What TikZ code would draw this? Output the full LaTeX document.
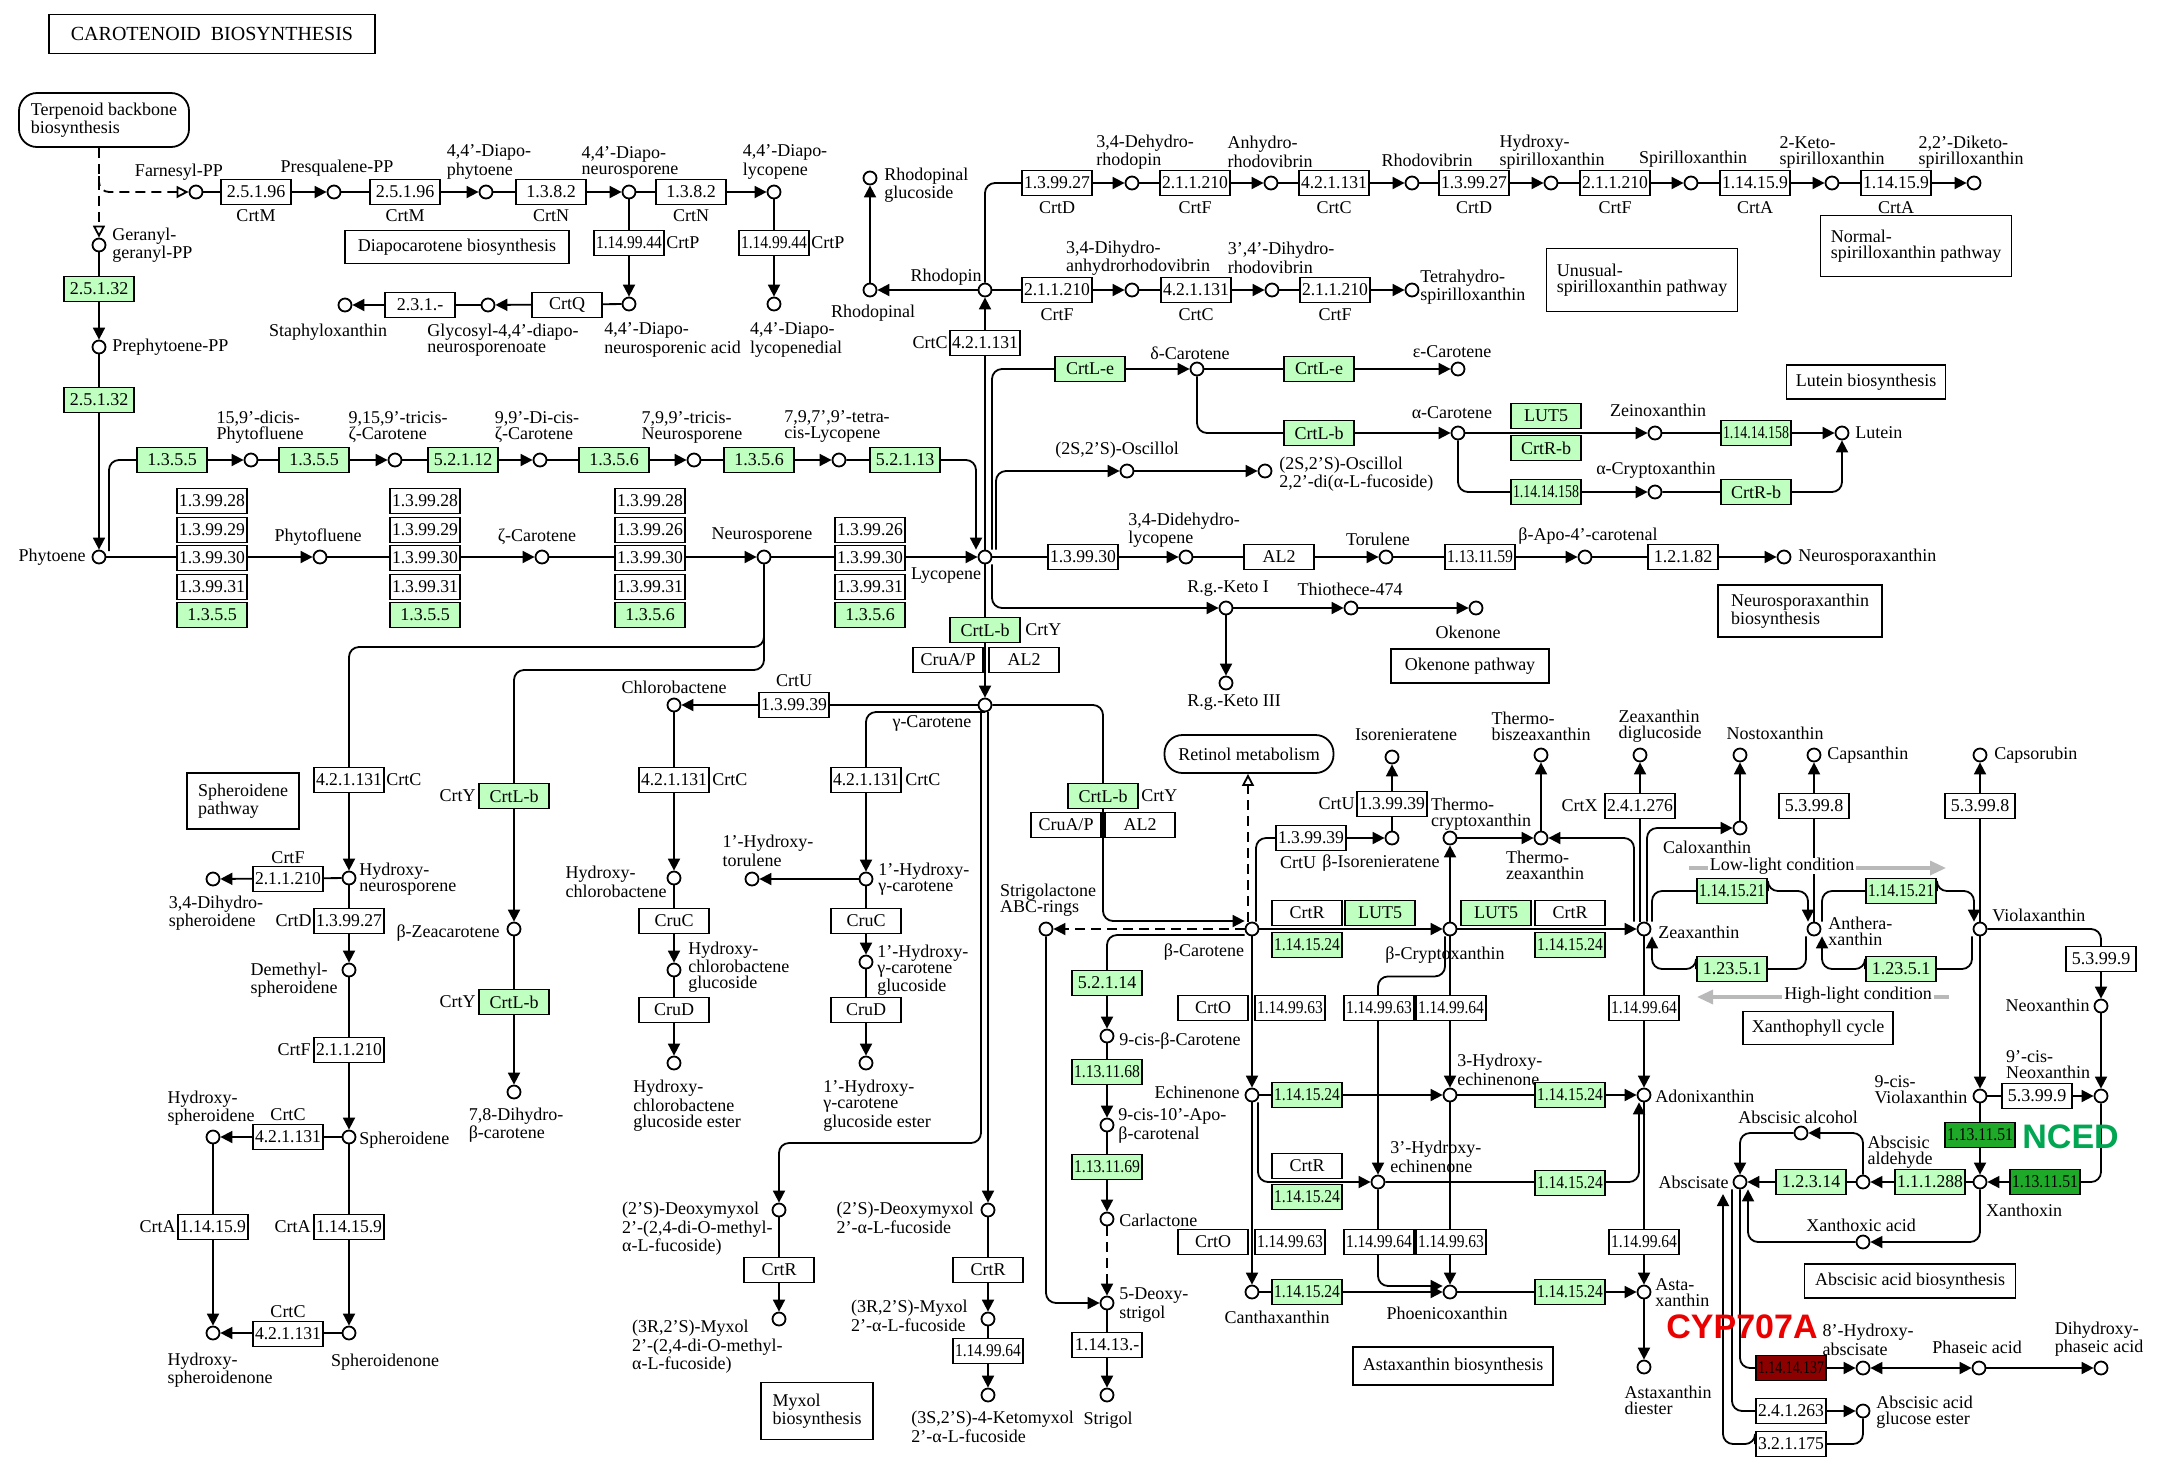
\documentclass[tikz,border=0pt]{standalone}
\usepackage{fontspec}
\setmainfont{Liberation Serif}
\newfontfamily\lsans{Liberation Sans}
\usepackage{graphicx}
\usetikzlibrary{arrows.meta}
\definecolor{kgreen}{RGB}{191,255,191}
\definecolor{dgreen}{RGB}{30,170,40}
\definecolor{dred}{RGB}{140,0,0}
\definecolor{ncedc}{RGB}{0,166,81}
\definecolor{cypc}{RGB}{235,0,0}
\definecolor{lgray}{RGB}{185,185,185}
\pgfdeclarelayer{bg}
\pgfsetlayers{bg,main}
\newsavebox\ecbx
\newcommand\ec[1]{\sbox\ecbx{#1}\ifdim\wd\ecbx>33pt\relax\resizebox{33pt}{\height}{#1}\else\usebox\ecbx\fi}
\newcommand\kf{\fontsize{9}{8}\selectfont}
\newcounter{lbc}
\newcommand\KEZ[4][]{\node[enzb,#1] (#2) at (#3) {\ec{#4}};}
\newcommand\KCP[2]{\node[cpd] (#1) at (#2) {};}
\newcommand\KLB[3][]{\stepcounter{lbc}\node[lab,#1] (lb\arabic{lbc}) at (#2) {#3};}
\tikzset{
 enzb/.style={draw,line width=0.9pt,minimum width=35pt,minimum height=12.5pt,inner sep=0pt,fill=white,font=\kf},
 gz/.style={fill=kgreen},
 cpd/.style={circle,draw,line width=0.9pt,minimum size=6.5pt,inner sep=0pt,fill=white},
 lab/.style={inner sep=0pt,align=left,font=\kf},
 mapb/.style={draw,line width=0.9pt,inner sep=0pt,align=left,font=\kf,fill=white},
 ar/.style={line width=0.9pt,-{Triangle[length=6pt,width=6pt]}},
 dsh/.style={line width=0.9pt,dash pattern=on 5pt off 3pt},
 oar/.style={-{Triangle[open,length=6pt,width=6pt]}},
 rc/.style={rounded corners=5pt},
 big/.style={font=\lsans\bfseries\fontsize{17}{17}\selectfont,inner sep=0pt},
}
\begin{document}
\begin{tikzpicture}[x=0.5pt,y=-0.5pt]
\begin{pgfonlayer}{bg}
\fill[white] (0,0) rectangle (2165,1469);
\end{pgfonlayer}
\useasboundingbox (0,0) rectangle (2165,1469);

% ---------- title and top-left ----------
\node[draw,line width=0.9pt,minimum width=163pt,minimum height=19.5pt,inner sep=0pt,font=\fontsize{10}{10}\selectfont] (title) at (212,34) {CAROTENOID\ \ BIOSYNTHESIS};
\node[mapb,rounded corners=9pt,minimum width=85pt,minimum height=27pt] (terp) at (104,120) {Terpenoid backbone\\biosynthesis};
\KCP{ggpp}{99,245} \KLB[anchor=west]{112,245}{Geranyl-\\geranyl-PP}
\KEZ[gz]{g1}{99,289}{2.5.1.32}
\KCP{pre}{99,347} \KLB[anchor=west]{112,347}{Prephytoene-PP}
\KEZ[gz]{g2}{99,400}{2.5.1.32}
\KCP{phy}{99,557} \KLB[anchor=east]{86,557}{Phytoene}

\KCP{fpp}{196,192} \KLB{179,172}{Farnesyl-PP}
\KEZ{e1}{256,192}{2.5.1.96} \KLB{256,216}{CrtM}
\KCP{psq}{334,192} \KLB{337,168}{Presqualene-PP}
\KEZ{e2}{405,192}{2.5.1.96} \KLB{405,216}{CrtM}
\KCP{dph}{486,192} \KLB{489,162}{4,4'-Diapo-\\phytoene}
\KEZ{e3}{551,192}{1.3.8.2} \KLB{551,216}{CrtN}
\KCP{dne}{629,192} \KLB{630,162}{4,4'-Diapo-\\neurosporene}
\KEZ{e4}{691,192}{1.3.8.2} \KLB{691,216}{CrtN}
\KCP{dly}{774,192} \KLB{785,162}{4,4'-Diapo-\\lycopene}
\KEZ{e5}{774,243}{1.14.99.44} \KLB[anchor=west]{811,243}{CrtP}
\KCP{dlyd}{774,304} \KLB{796,340}{4,4'-Diapo-\\lycopenedial}
\KEZ{e6}{629,243}{1.14.99.44} \KLB[anchor=west]{666,243}{CrtP}
\KCP{dnea}{629,304} \KLB[anchor=west]{604,340}{4,4'-Diapo-\\neurosporenic acid}
\KEZ{e7}{567,305}{CrtQ}
\KCP{gly}{488,305} \KLB{503,340}{Glycosyl-4,4'-diapo-\\neurosporenoate}
\KEZ{e8}{420,305}{2.3.1.-}
\KCP{sta}{345,305} \KLB{328,332}{Staphyloxanthin}
\node[mapb,minimum width=112pt,minimum height=16.5pt,align=center] (m1) at (457,247) {Diapocarotene biosynthesis};

% ---------- row 460 ----------
\KEZ[gz]{g3}{172,460}{1.3.5.5}
\KCP{pfa}{251,460} \KLB{260,427}{15,9'-dicis-\\Phytofluene}
\KEZ[gz]{g4}{314,460}{1.3.5.5}
\KCP{zca}{395,460} \KLB{398,427}{9,15,9'-tricis-\\ζ-Carotene}
\KEZ[gz]{g5}{463,460}{5.2.1.12}
\KCP{zcb}{540,460} \KLB{537,427}{9,9'-Di-cis-\\ζ-Carotene}
\KEZ[gz]{g6}{614,460}{1.3.5.6}
\KCP{nsa}{694,460} \KLB{692,427}{7,9,9'-tricis-\\Neurosporene}
\KEZ[gz]{g7}{759,460}{1.3.5.6}
\KCP{lya}{839,460} \KLB{837,426}{7,9,7',9'-tetra-\\cis-Lycopene}
\KEZ[gz]{g8}{905,460}{5.2.1.13}

% ---------- row 557 ----------
\KEZ{s1a}{212,501}{1.3.99.28} \KEZ{s1b}{212,530}{1.3.99.29} \KEZ{s1c}{212,558}{1.3.99.30} \KEZ{s1d}{212,587}{1.3.99.31} \KEZ[gz]{s1e}{212,615}{1.3.5.5}
\KCP{pfl}{320,557} \KLB{318,537}{Phytofluene}
\KEZ{s2a}{425,501}{1.3.99.28} \KEZ{s2b}{425,530}{1.3.99.29} \KEZ{s2c}{425,558}{1.3.99.30} \KEZ{s2d}{425,587}{1.3.99.31} \KEZ[gz]{s2e}{425,615}{1.3.5.5}
\KCP{zcr}{542,557} \KLB{537,537}{ζ-Carotene}
\KEZ{s3a}{650,501}{1.3.99.28} \KEZ{s3b}{650,530}{1.3.99.26} \KEZ{s3c}{650,558}{1.3.99.30} \KEZ{s3d}{650,587}{1.3.99.31} \KEZ[gz]{s3e}{650,615}{1.3.5.6}
\KCP{nsp}{764,557} \KLB{762,536}{Neurosporene}
\KEZ{s4b}{870,530}{1.3.99.26} \KEZ{s4c}{870,558}{1.3.99.30} \KEZ{s4d}{870,587}{1.3.99.31} \KEZ[gz]{s4e}{870,615}{1.3.5.6}
\KCP{lyc}{985,557} \KLB{946,576}{Lycopene}

\KEZ{r1}{1083,557}{1.3.99.30}
\KCP{ddl}{1186,557} \KLB{1184,530}{3,4-Didehydro-\\lycopene}
\KEZ{r2}{1279,557}{AL2}
\KCP{tor}{1386,557} \KLB{1378,539}{Torulene}
\KEZ{r3}{1480,557}{1.13.11.59}
\KCP{apo}{1585,557} \KLB{1588,536}{β-Apo-4'-carotenal}
\KEZ{r4}{1683,557}{1.2.1.82}
\KCP{nxa}{1784,557} \KLB[anchor=west]{1798,557}{Neurosporaxanthin}
\node[mapb,minimum width=82pt,minimum height=26pt] (m2) at (1800,611) {Neurosporaxanthin\\biosynthesis};
\node[mapb,minimum width=79pt,minimum height=17pt] (m3) at (1470,666) {Okenone pathway};
\KCP{rk1}{1226,608} \KLB{1228,589}{R.g.-Keto I}
\KCP{thi}{1351,608} \KLB{1350,589}{Thiothece-474}
\KCP{oke}{1476,608} \KLB{1468,632}{Okenone}
\KCP{rk3}{1226,683} \KLB{1234,703}{R.g.-Keto III}

% ---------- rhodopin ----------
\KEZ{rc1}{985,343}{4.2.1.131} \KLB[anchor=east]{948,343}{CrtC}
\KCP{rho}{985,290} \KLB{946,277}{Rhodopin}
\KCP{rhl}{870,290} \KLB{873,313}{Rhodopinal}
\KCP{rhg}{870,178} \KLB[anchor=west]{884,185}{Rhodopinal\\glucoside}
\KEZ{u1}{1057,183}{1.3.99.27} \KLB{1057,208}{CrtD}
\KCP{dhr}{1132,183} \KLB{1145,152}{3,4-Dehydro-\\rhodopin}
\KEZ{u2}{1195,183}{2.1.1.210} \KLB{1195,208}{CrtF}
\KCP{ahr}{1271,183} \KLB{1270,152}{Anhydro-\\rhodovibrin}
\KEZ{u3}{1334,183}{4.2.1.131} \KLB{1334,208}{CrtC}
\KCP{rhv}{1412,183} \KLB{1427,160}{Rhodovibrin}
\KEZ{u4}{1474,183}{1.3.99.27} \KLB{1474,208}{CrtD}
\KCP{hsp}{1551,183} \KLB{1552,152}{Hydroxy-\\spirilloxanthin}
\KEZ{u5}{1615,183}{2.1.1.210} \KLB{1615,208}{CrtF}
\KCP{spx}{1691,183} \KLB{1693,159}{Spirilloxanthin}
\KEZ{u6}{1755,183}{1.14.15.9} \KLB{1755,208}{CrtA}
\KCP{ksp}{1832,183} \KLB{1832,152}{2-Keto-\\spirilloxanthin}
\KEZ{u7}{1896,183}{1.14.15.9} \KLB{1896,208}{CrtA}
\KCP{dks}{1974,183} \KLB{1971,152}{2,2'-Diketo-\\spirilloxanthin}
\node[mapb,minimum width=95.5pt,minimum height=30.5pt] (m4) at (1916,246) {Normal-\\spirilloxanthin pathway};
\node[mapb,minimum width=95.5pt,minimum height=31.5pt] (m5) at (1642,280) {Unusual-\\spirilloxanthin pathway};
\KEZ{v1}{1057,290}{2.1.1.210} \KLB{1057,315}{CrtF}
\KCP{dar}{1132,290} \KLB{1138,258}{3,4-Dihydro-\\anhydrorhodovibrin}
\KEZ{v2}{1196,290}{4.2.1.131} \KLB{1196,315}{CrtC}
\KCP{drv}{1272,290} \KLB{1281,258}{3',4'-Dihydro-\\rhodovibrin}
\KEZ{v3}{1335,290}{2.1.1.210} \KLB{1335,315}{CrtF}
\KCP{ths}{1412,290} \KLB[anchor=west]{1420,287}{Tetrahydro-\\spirilloxanthin}

% ---------- lutein ----------
\KEZ[gz]{w1}{1090,369}{CrtL-e}
\KCP{dca}{1197,369} \KLB{1190,353}{δ-Carotene}
\KEZ[gz]{w2}{1319,369}{CrtL-e}
\KCP{eca}{1458,369} \KLB{1452,352}{ε-Carotene}
\KEZ[gz]{w3}{1319,433}{CrtL-b}
\KCP{aca}{1458,433} \KLB{1452,413}{α-Carotene}
\KEZ[gz]{w4}{1546,416}{LUT5}
\KEZ[gz]{w5}{1546,448}{CrtR-b}
\KCP{zei}{1655,433} \KLB{1658,410}{Zeinoxanthin}
\KEZ[gz]{w6}{1756,433}{1.14.14.158}
\KCP{lut}{1842,433} \KLB[anchor=west]{1855,433}{Lutein}
\KEZ[gz]{w7}{1546,492}{1.14.14.158}
\KCP{acr}{1655,492} \KLB{1656,470}{α-Cryptoxanthin}
\KEZ[gz]{w8}{1756,492}{CrtR-b}
\node[mapb,minimum width=79.5pt,minimum height=17pt] (m6) at (1866,382) {Lutein biosynthesis};
\KCP{os1}{1127,471} \KLB{1117,450}{(2S,2'S)-Oscillol}
\KCP{os2}{1265,471} \KLB[anchor=west]{1279,474}{(2S,2'S)-Oscillol\\2,2'-di(α-L-fucoside)}

% ---------- gamma carotene ----------
\KEZ[gz]{y1}{985,630}{CrtL-b} \KLB[anchor=west]{1025,630}{CrtY}
\KEZ{y2}{948,660}{CruA/P} \KEZ{y3}{1024,660}{AL2}
\KCP{gca}{985,705} \KLB{932,723}{γ-Carotene}
\KEZ{x1}{794,705}{1.3.99.39} \KLB{794,681}{CrtU}
\KCP{chl}{674,705} \KLB{674,687}{Chlorobactene}
\KEZ{x2}{866,780}{4.2.1.131} \KLB[anchor=west]{905,780}{CrtC}
\KCP{hgc}{866,879} \KLB[anchor=west]{878,879}{1'-Hydroxy-\\γ-carotene}
\KCP{hto}{752,879} \KLB{768,851}{1'-Hydroxy-\\torulene}
\KEZ{x3}{866,921}{CruC}
\KCP{hgg}{866,962} \KLB[anchor=west]{877,970}{1'-Hydroxy-\\γ-carotene\\glucoside}
\KEZ{x4}{866,1010}{CruD}
\KCP{hge}{866,1063} \KLB[anchor=north west]{823,1080}{1'-Hydroxy-\\γ-carotene\\glucoside ester}
\KEZ{x5}{674,780}{4.2.1.131} \KLB[anchor=west]{712,780}{CrtC}
\KCP{hch}{674,878} \KLB[anchor=east]{667,882}{Hydroxy-\\chlorobactene}
\KEZ{x6}{674,921}{CruC}
\KCP{hcg}{674,970} \KLB[anchor=west]{688,967}{Hydroxy-\\chlorobactene\\glucoside}
\KEZ{x7}{674,1010}{CruD}
\KCP{hce}{674,1063} \KLB[anchor=north west]{633,1080}{Hydroxy-\\chlorobactene\\glucoside ester}

% ---------- spheroidene ----------
\node[mapb,minimum width=56pt,minimum height=28pt] (m7) at (243,801) {Spheroidene\\pathway};
\KEZ{p1}{349,780}{4.2.1.131} \KLB[anchor=west]{386,780}{CrtC}
\KCP{hns}{349,878} \KLB[anchor=west]{359,879}{Hydroxy-\\neurosporene}
\KEZ{p2}{288,879}{2.1.1.210} \KLB{288,858}{CrtF}
\KCP{dhs}{213,879} \KLB{216,913}{3,4-Dihydro-\\spheroidene}
\KEZ{p3}{349,921}{1.3.99.27} \KLB[anchor=east]{312,921}{CrtD}
\KCP{dms}{349,970} \KLB[anchor=east]{338,980}{Demethyl-\\spheroidene}
\KEZ{p4}{349,1050}{2.1.1.210} \KLB[anchor=east]{311,1050}{CrtF}
\KCP{sph}{349,1137} \KLB[anchor=west]{359,1140}{Spheroidene}
\KEZ{p5}{288,1137}{4.2.1.131} \KLB{288,1115}{CrtC}
\KCP{hsd}{213,1137} \KLB{211,1108}{Hydroxy-\\spheroidene}
\KEZ{p6}{349,1227}{1.14.15.9} \KLB[anchor=east]{311,1227}{CrtA}
\KCP{spn}{349,1333} \KLB{385,1362}{Spheroidenone}
\KEZ{p7}{213,1227}{1.14.15.9} \KLB[anchor=east]{176,1227}{CrtA}
\KCP{hsn}{213,1333} \KLB{220,1370}{Hydroxy-\\spheroidenone}
\KEZ{p8}{288,1334}{4.2.1.131} \KLB{288,1312}{CrtC}
\KEZ[gz]{z1}{514,796}{CrtL-b} \KLB[anchor=east]{476,796}{CrtY}
\KCP{bzc}{514,929} \KLB[anchor=east]{500,933}{β-Zeacarotene}
\KEZ[gz]{z2}{514,1002}{CrtL-b} \KLB[anchor=east]{476,1002}{CrtY}
\KCP{dhb}{514,1092} \KLB{516,1125}{7,8-Dihydro-\\β-carotene}

% ---------- myxol ----------
\KCP{dm1}{779,1210} \KLB[anchor=east]{773,1229}{(2'S)-Deoxymyxol\\2'-(2,4-di-O-methyl-\\α-L-fucoside)}
\KEZ{mr1}{779,1270}{CrtR}
\KCP{mx1}{779,1319} \KLB[anchor=north east]{783,1320}{(3R,2'S)-Myxol\\2'-(2,4-di-O-methyl-\\α-L-fucoside)}
\KCP{dm2}{988,1210} \KLB[anchor=east]{974,1218}{(2'S)-Deoxymyxol\\2'-α-L-fucoside}
\KEZ{mr2}{988,1270}{CrtR}
\KCP{mx2}{988,1319} \KLB[anchor=east]{968,1316}{(3R,2'S)-Myxol\\2'-α-L-fucoside}
\KEZ{mr3}{988,1351}{1.14.99.64}
\KCP{kmx}{988,1395} \KLB[anchor=north west]{911,1411}{(3S,2'S)-4-Ketomyxol\\2'-α-L-fucoside}
\node[mapb,minimum width=56pt,minimum height=28.5pt] (m8) at (817,1411) {Myxol\\biosynthesis};

% ---------- beta carotene / strigolactone ----------
\KEZ[gz]{q1}{1103,796}{CrtL-b} \KLB[anchor=west]{1141,796}{CrtY}
\KEZ{q2}{1066,825}{CruA/P} \KEZ{q3}{1140,825}{AL2}
\KCP{bca}{1252,929} \KLB{1204,952}{β-Carotene}
\KCP{sab}{1046,929} \KLB{1048,900}{Strigolactone\\ABC-rings}
\node[mapb,rounded corners=9pt,minimum width=84.5pt,minimum height=19pt,align=center] (ret) at (1249,754) {Retinol metabolism};
\KEZ[gz]{s1}{1107,983}{5.2.1.14}
\KCP{c9b}{1107,1036} \KLB[anchor=west]{1119,1041}{9-cis-β-Carotene}
\KEZ[gz]{s2}{1107,1072}{1.13.11.68}
\KCP{apc}{1107,1125} \KLB[anchor=west]{1118,1126}{9-cis-10'-Apo-\\β-carotenal}
\KEZ[gz]{s3}{1107,1167}{1.13.11.69}
\KCP{car}{1107,1219} \KLB[anchor=west]{1119,1220}{Carlactone}
\KCP{dst}{1107,1303} \KLB[anchor=west]{1119,1305}{5-Deoxy-\\strigol}
\KEZ{s4}{1107,1345}{1.14.13.-}
\KCP{stg}{1107,1395} \KLB{1108,1420}{Strigol}
\KEZ{i1}{1311,838}{1.3.99.39} \KLB{1298,863}{CrtU}
\KCP{bis}{1392,838} \KLB{1381,863}{β-Isorenieratene}
\KEZ{i2}{1392,804}{1.3.99.39} \KLB[anchor=east]{1355,804}{CrtU}
\KCP{isr}{1392,757} \KLB{1406,735}{Isorenieratene}
\KEZ{b1}{1307,913}{CrtR} \KEZ[gz]{b2}{1380,913}{LUT5} \KEZ[gz]{b3}{1307,945}{1.14.15.24}
\KCP{bcr}{1450,929} \KLB{1445,955}{β-Cryptoxanthin}
\KEZ[gz]{b4}{1496,913}{LUT5} \KEZ{b5}{1570,913}{CrtR} \KEZ[gz]{b6}{1570,945}{1.14.15.24}
\KCP{zea}{1644,929} \KLB[anchor=west]{1658,932}{Zeaxanthin}
\KCP{tcr}{1450,838} \KLB{1481,814}{Thermo-\\cryptoxanthin}
\KCP{tze}{1541,838} \KLB{1545,865}{Thermo-\\zeaxanthin}
\KCP{tbz}{1541,755} \KLB{1541,726}{Thermo-\\biszeaxanthin}
\KEZ{b7}{1640,806}{2.4.1.276} \KLB[anchor=east]{1598,806}{CrtX}
\KCP{zdg}{1640,755} \KLB{1660,726}{Zeaxanthin\\diglucoside}
\KCP{cal}{1740,828} \KLB{1707,847}{Caloxanthin}
\KCP{nos}{1740,755} \KLB{1775,733}{Nostoxanthin}
\KEZ{b8}{1814,806}{5.3.99.8}
\KCP{cap}{1814,755} \KLB[anchor=west]{1827,755}{Capsanthin}
\KCP{ant}{1814,929} \KLB[anchor=west]{1828,931}{Anthera-\\xanthin}
\KEZ{b9}{1980,806}{5.3.99.8}
\KCP{cpr}{1980,755} \KLB[anchor=west]{1994,755}{Capsorubin}
\KCP{vio}{1980,929} \KLB[anchor=west]{1992,915}{Violaxanthin}
\KEZ[gz]{x15a}{1732,891}{1.14.15.21} \KEZ[gz]{x23a}{1732,969}{1.23.5.1}
\KEZ[gz]{x15b}{1901,891}{1.14.15.21} \KEZ[gz]{x23b}{1901,969}{1.23.5.1}
\coordinate (ll1) at (1689,868); \coordinate (ll2) at (1946,868);
\node[lab,fill=white,inner xsep=1pt] (llt) at (1782,866) {Low-light condition};
\coordinate (hl1) at (1949,997); \coordinate (hl2) at (1697,997);
\node[lab,fill=white,inner xsep=1pt] (hlt) at (1858,995) {High-light condition};
\node[mapb,minimum width=75pt,minimum height=16.5pt] (m9) at (1818,1028) {Xanthophyll cycle};

% ---------- ABA ----------
\KEZ{n1}{2101,959}{5.3.99.9}
\KCP{neo}{2101,1006} \KLB[anchor=east]{2090,1005}{Neoxanthin}
\KCP{cne}{2101,1096} \KLB{2048,1065}{9'-cis-\\Neoxanthin}
\KCP{cvi}{1980,1096} \KLB{1921,1090}{9-cis-\\Violaxanthin}
\KEZ{n2}{2037,1096}{5.3.99.9}
\KEZ[fill=dgreen]{n3}{1980,1135}{1.13.11.51}
\node[big,text=ncedc,anchor=west] (nced) at (2022,1137) {NCED};
\KCP{xan}{1980,1182} \KLB{2024,1210}{Xanthoxin}
\KEZ[fill=dgreen]{n4}{2045,1182}{1.13.11.51}
\KEZ[gz]{n5}{1930,1182}{1.1.1.288}
\KCP{aal}{1863,1182} \KLB{1900,1152}{Abscisic\\aldehyde}
\KEZ[gz]{n6}{1811,1182}{1.2.3.14}
\KCP{abs}{1740,1182} \KLB[anchor=east]{1729,1182}{Abscisate}
\KCP{aac}{1801,1133} \KLB{1798,1117}{Abscisic alcohol}
\KCP{xac}{1863,1242} \KLB{1861,1225}{Xanthoxic acid}
\node[mapb,minimum width=105.5pt,minimum height=17pt] (m10) at (1910,1281) {Abscisic acid biosynthesis};
\KEZ[fill=dred]{k1}{1791,1368}{1.14.14.137}
\KCP{hab}{1863,1368} \KLB{1868,1340}{8'-Hydroxy-\\abscisate}
\KCP{pha}{1979,1368} \KLB{1977,1347}{Phaseic acid}
\KCP{dpa}{2101,1368} \KLB{2099,1339}{Dihydroxy-\\phaseic acid}
\KEZ{k2}{1791,1411}{2.4.1.263}
\KCP{age}{1863,1411} \KLB[anchor=west]{1876,1412}{Abscisic acid\\glucose ester}
\KEZ{k3}{1791,1444}{3.2.1.175}
\node[big,text=cypc] (cyp) at (1742,1327) {CYP707A};

% ---------- astaxanthin ----------
\KEZ{h1}{1213,1008}{CrtO} \KEZ{h2}{1290,1008}{1.14.99.63}
\KCP{ech}{1252,1095} \KLB[anchor=east]{1240,1092}{Echinenone}
\KEZ[gz]{h3}{1307,1095}{1.14.15.24}
\KCP{hec}{1450,1095} \KLB[anchor=west]{1457,1070}{3-Hydroxy-\\echinenone}
\KEZ{h4}{1451,1008}{1.14.99.64}
\KEZ{h5}{1379,1008}{1.14.99.63}
\KEZ[gz]{h6}{1570,1095}{1.14.15.24}
\KCP{adx}{1644,1095} \KLB[anchor=west]{1655,1096}{Adonixanthin}
\KEZ{h7}{1644,1008}{1.14.99.64}
\KCP{h3e}{1378,1182} \KLB[anchor=west]{1390,1157}{3'-Hydroxy-\\echinenone}
\KEZ{h8}{1307,1166}{CrtR} \KEZ[gz]{h9}{1307,1197}{1.14.15.24}
\KEZ[gz]{h10}{1570,1183}{1.14.15.24}
\KEZ{h11}{1379,1242}{1.14.99.64} \KEZ{h12}{1451,1242}{1.14.99.63}
\KCP{phx}{1450,1292} \KLB{1447,1313}{Phoenicoxanthin}
\KEZ{h13}{1213,1242}{CrtO} \KEZ{h14}{1290,1242}{1.14.99.63}
\KCP{can}{1252,1292} \KLB{1277,1317}{Canthaxanthin}
\KEZ[gz]{h15}{1307,1292}{1.14.15.24}
\KEZ[gz]{h16}{1570,1292}{1.14.15.24}
\KCP{ast}{1644,1292} \KLB[anchor=west]{1655,1293}{Asta-\\xanthin}
\KEZ{h17}{1644,1242}{1.14.99.64}
\KCP{asd}{1644,1367} \KLB{1668,1400}{Astaxanthin\\diester}
\node[mapb,minimum width=100pt,minimum height=19pt] (m11) at (1453,1366) {Astaxanthin biosynthesis};

% ================= connectors =================
\begin{pgfonlayer}{bg}
\draw[dsh,oar] (terp.south -| ggpp) -- (ggpp);
\coordinate (dbr) at (99,176);
\draw[dsh,oar,rc] (dbr) |- (fpp);
\draw[ar] (fpp) -- (psq); \draw[ar] (psq) -- (dph); \draw[ar] (dph) -- (dne); \draw[ar] (dne) -- (dly);
\draw[ar] (dly) -- (dlyd); \draw[ar] (dne) -- (dnea); \draw[ar] (dnea) -- (gly); \draw[ar] (gly) -- (sta);
\draw[ar] (ggpp) -- (pre); \draw[ar] (pre) -- (phy);
\draw[ar,rc] ([xshift=5pt,yshift=3pt]phy.center) |- (pfa);
\draw[ar] (pfa) -- (zca); \draw[ar] (zca) -- (zcb); \draw[ar] (zcb) -- (nsa); \draw[ar] (nsa) -- (lya);
\draw[ar,rc] (lya) -| ([xshift=-4.5pt]lyc.north);
\draw[ar] (phy) -- (pfl); \draw[ar] (pfl) -- (zcr); \draw[ar] (zcr) -- (nsp); \draw[ar] (nsp) -- (lyc);
\draw[ar,rc] (nsp) -- (764,647) -- (349,647) -- (hns);
\draw[ar,rc] (nsp) -- (764,670) -- (514,670) -- (bzc);
\draw[ar] (bzc) -- (dhb);
\draw[ar] (hns) -- (dhs); \draw[ar] (hns) -- (dms); \draw[ar] (dms) -- (sph);
\draw[ar] (sph) -- (hsd); \draw[ar] (sph) -- (spn); \draw[ar] (hsd) -- (hsn); \draw[ar] (spn) -- (hsn);
% lycopene
\draw[ar] (lyc) -- (rho); \draw[ar] (rho) -- (rhl); \draw[ar] (rhl) -- (rhg);
\draw[ar,rc] (rho) |- (dhr);
\draw[ar] (dhr) -- (ahr); \draw[ar] (ahr) -- (rhv); \draw[ar] (rhv) -- (hsp); \draw[ar] (hsp) -- (spx);
\draw[ar] (spx) -- (ksp); \draw[ar] (ksp) -- (dks);
\draw[ar] (rho) -- (dar); \draw[ar] (dar) -- (drv); \draw[ar] (drv) -- (ths);
\draw[ar,rc] ([xshift=3.5pt]lyc.north) |- (dca);
\draw[ar] (dca) -- (eca); \draw[ar,rc] (dca) |- (aca);
\draw[ar] (aca) -- (zei); \draw[ar] (zei) -- (lut);
\draw[ar,rc] (aca) |- (acr); \draw[ar,rc] (acr) -| (lut);
\draw[ar,rc] ([xshift=5.5pt]lyc.north) |- (os1); \draw[ar] (os1) -- (os2);
\draw[ar] (lyc) -- (ddl); \draw[ar] (ddl) -- (tor); \draw[ar] (tor) -- (apo); \draw[ar] (apo) -- (nxa);
\draw[ar,rc] ([xshift=3.5pt]lyc.south) |- (rk1);
\draw[ar] (rk1) -- (thi); \draw[ar] (thi) -- (oke); \draw[ar] (rk1) -- (rk3);
\draw[ar] (lyc) -- (gca);
% gamma carotene
\draw[ar] (gca) -- (chl);
\draw[ar,rc] ([yshift=-3.5pt]gca.center) -| (hgc);
\draw[ar] (hgc) -- (hto); \draw[ar] (hgc) -- (hgg); \draw[ar] (hgg) -- (hge);
\draw[ar] (chl) -- (hch); \draw[ar] (hch) -- (hcg); \draw[ar] (hcg) -- (hce);
\draw[ar,rc] ([xshift=-2pt]gca.south) -- (981,1143) -- (779,1143) -- (dm1);
\draw[ar] (dm1) -- (mx1);
\draw[ar] (gca.south -| dm2) -- (dm2); \draw[ar] (dm2) -- (mx2); \draw[ar] (mx2) -- (kmx);
\draw[ar,rc] (gca) -- (1103,705) -- (1103,921) -- ([yshift=4pt]bca.west);
% beta carotene
\draw[ar,dash pattern=on 5pt off 3pt] (bca) -- (sab);
\draw[dsh,oar] ([xshift=-2pt]bca.north) -- ([xshift=-2pt]bca.north |- ret.south);
\draw[ar,rc] ([yshift=-3pt]bca.west) -| (c9b);
\draw[ar] (c9b) -- (apc); \draw[ar] (apc) -- (car);
\draw[ar,dash pattern=on 5pt off 3pt] (car) -- (dst);
\draw[ar] (dst) -- (stg);
\draw[ar,rc] (sab) |- (dst);
\draw[ar,rc] ([xshift=2pt]bca.north) |- (bis); \draw[ar] (bis) -- (isr);
\draw[ar] (bca) -- (bcr); \draw[ar] (bcr) -- (zea); \draw[ar] (bcr) -- (tcr); \draw[ar] (tcr) -- (tze);
\draw[ar,rc] ([xshift=-5pt]zea.north) |- (tze);
\draw[ar] (tze) -- (tbz);
\draw[ar] (zea.north -| zdg) -- (zdg);
\draw[ar,rc] ([xshift=1.5pt]zea.north) |- (cal);
\draw[ar] (cal) -- (nos);
\draw[ar,rc] ([xshift=4pt]zea.north) |- (x15a) -- (x15a.east) -| ([xshift=-3pt]ant.north);
\draw[ar,rc] ([xshift=-4pt]ant.south) |- (x23a) -- (x23a.west) -| ([xshift=4pt]zea.south);
\draw[ar,rc] ([xshift=4pt]ant.north) |- (x15b) -- (x15b.east) -| ([xshift=-3pt]vio.north);
\draw[ar,rc] ([xshift=-4pt]vio.south) |- (x23b) -- (x23b.west) -| ([xshift=4pt]ant.south);
\draw[ar] (ant) -- (cap); \draw[ar] (vio) -- (cpr);
\draw[lgray,line width=1.6pt,-{Triangle[length=8pt,width=7pt]}] (ll1) -- (ll2);
\draw[lgray,line width=1.6pt,-{Triangle[length=8pt,width=7pt]}] (hl1) -- (hl2);
% ABA
\draw[ar,rc] (vio) -| (neo); \draw[ar] (neo) -- (cne);
\draw[ar] (vio) -- (cvi); \draw[ar] (cvi) -- (cne); \draw[ar] (cvi) -- (xan);
\draw[ar,rc] (cne) |- (xan);
\draw[ar] (xan) -- (aal); \draw[ar] (aal) -- (abs);
\draw[ar,rc] (aal) |- (aac); \draw[ar,rc] (aac) -| (abs);
\draw[ar,rc] (xan) |- (xac); \draw[ar,rc] (xac) -| ([xshift=4pt]abs.south);
\draw[ar,rc] (abs.south) |- (hab);
\draw[ar,rc] ([xshift=-4pt]abs.south) |- (age);
\coordinate (abin) at (1723,1194);
\draw[ar,rc] (age) |- (k3) -- (k3.west) -| (abin);
\draw[line width=0.9pt,{Triangle[length=6pt,width=6pt]}-{Triangle[length=6pt,width=6pt]}] (hab) -- (pha);
\draw[ar] (pha) -- (dpa);
% astaxanthin
\draw[ar] (bca) -- (ech); \draw[ar] (ech) -- (hec); \draw[ar] (bcr) -- (hec);
\draw[ar] (hec) -- (adx); \draw[ar] (zea) -- (adx);
\draw[ar,rc] ([xshift=-2.5pt]bcr.south) -- ++(0,-20pt) -| (h3e);
\draw[ar,rc] ([xshift=3pt]ech.south) |- (h3e);
\draw[ar,rc] (h3e) -| ([xshift=-2.5pt]adx.south);
\draw[ar,rc] (h3e) |- ([yshift=3pt]phx.west);
\draw[ar] (hec) -- (phx); \draw[ar] (ech) -- (can); \draw[ar] (can) -- (phx);
\draw[ar] (phx) -- (ast); \draw[ar] (adx) -- (ast); \draw[ar] (ast) -- (asd);
\end{pgfonlayer}
\end{tikzpicture}
\end{document}
